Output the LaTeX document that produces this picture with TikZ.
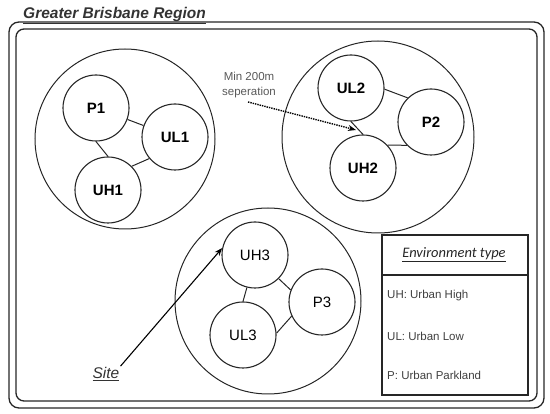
\documentclass[tikz,border=0pt]{standalone}
\usepackage{fontspec}
\setmainfont{Liberation Sans}
\newfontfamily\carlito{Carlito}
\usetikzlibrary{arrows.meta}
\begin{document}
\begin{tikzpicture}[x=1pt,y=-1pt,
  frame/.style={draw=black!85,line width=1.3pt,rounded corners=10pt},
  region/.style={circle,draw=black!85,line width=1pt,minimum size=#1,inner sep=0pt},
  site/.style={circle,draw=black!85,line width=1.1pt,minimum size=66pt,inner sep=0pt,font=\fontsize{15}{17}\selectfont\bfseries},
  siteb/.style={site,font=\fontsize{15}{17}\selectfont},
  link/.style={draw=black!85,line width=1pt},
  legendtxt/.style={anchor=west,text=black!75,font=\fontsize{11.5}{13}\selectfont,inner sep=0pt}]
\useasboundingbox (0,0) rectangle (550,414);
% frame
\draw[frame] (9,22) rectangle (544,408);
\draw[frame,rounded corners=8pt] (16,29) rectangle (537,401);
\node[anchor=base west,inner sep=0pt,font=\fontsize{15.5}{18}\selectfont\bfseries\itshape,text=black!80] (title) at (23,19) {\underline{Greater Brisbane Region}};
% regions
\node[region=180pt] (R1) at (125,139) {};
\node[region=192pt] (R2) at (378,137) {};
\node[region=186pt] (R3) at (268,301) {};
% cluster 1
\node[site] (P1) at (96,108) {P1};
\node[site] (UL1) at (175,137) {UL1};
\node[site] (UH1) at (108,190) {UH1};
\draw[link] (P1.-20) -- (UL1.160);
\draw[link] (P1.south) -- (UH1.north);
\draw[link] (UL1.220) -- (UH1.45);
% cluster 2
\node[site] (UL2) at (351,88) {UL2};
\node[site] (P2) at (431,122) {P2};
\node[site] (UH2) at (363,168) {UH2};
\draw[link] (UL2.-2) -- (P2.134);
\draw[link] (UL2.south) -- (UH2.north);
\draw[link] (UH2.43) -- (P2.224);
% cluster 3
\node[siteb] (UH3) at (255,255) {UH3};
\node[siteb] (P3) at (322,302) {P3};
\node[siteb] (UL3) at (243,335) {UL3};
\draw[link] (UH3.-104) -- (UL3.north);
\draw[link] (UH3.-45) -- (P3.159);
\draw[link] (UL3.3) -- (P3.205);
% min separation
\node[align=center,text=black!65,font=\fontsize{11.5}{15}\selectfont,inner sep=0pt] (minsep) at (249,85) {Min 200m\\seperation};
\coordinate (sepstart) at (248,102);
\coordinate (septip) at (356,130);
\draw[line width=1.4pt,densely dotted,-{Stealth[length=8pt,width=6pt]}] (sepstart) -- (septip);
% site
\node[font=\fontsize{15.5}{18}\selectfont\itshape,text=black!80,inner sep=1pt] (sitelbl) at (106,374) {\underline{Site}};
\draw[line width=1.1pt,-{Stealth[length=8pt,width=6pt]}] (sitelbl.north east) -- (UH3.168);
% legend
\draw[line width=1.1pt,draw=black!85] (382,235) rectangle (528,395);
\coordinate (lgl) at (382,275);
\coordinate (lgr) at (528,275);
\draw[line width=1.1pt,draw=black!85] (lgl) -- (lgr);
\node[font=\carlito\fontsize{14.5}{17}\selectfont\itshape,inner sep=0pt,text=black!85] (lgtitle) at (454,255) {\underline{Environment type}};
\node[legendtxt] (lg1) at (387,296) {UH: Urban High};
\node[legendtxt] (lg2) at (387,336) {UL: Urban Low};
\node[legendtxt] (lg3) at (387,375) {P: Urban Parkland};
\end{tikzpicture}
\end{document}
